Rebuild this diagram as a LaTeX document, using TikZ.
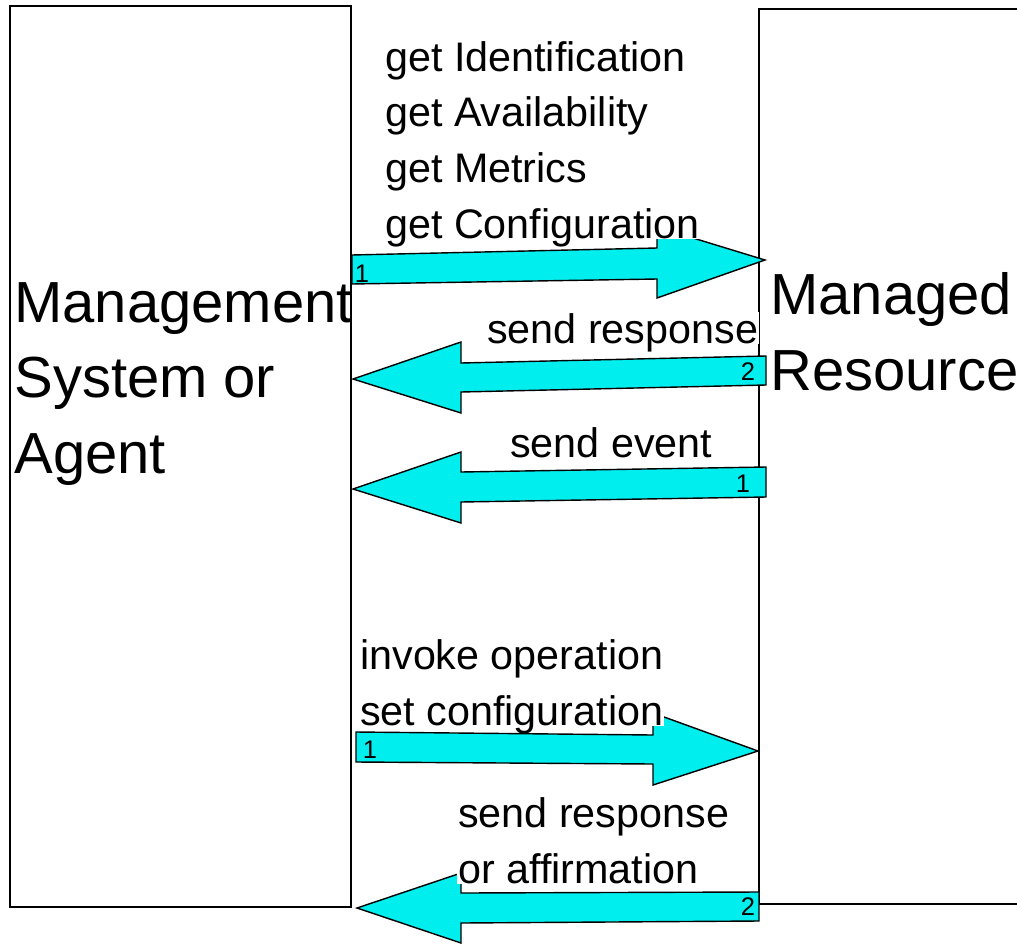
\documentclass[tikz,border=0pt]{standalone}
\usepackage{fontspec}
\setmainfont{Liberation Sans}
\definecolor{arrowcyan}{RGB}{0,238,238}
\tikzset{
  frame/.style={draw=black,line width=1.1pt},
  blockarrow/.style={draw=black,fill=arrowcyan,line width=0.8pt,line join=miter},
  msg/.style={anchor=base west,fill=white,inner sep=0.5pt,align=left,text depth=0pt,
    font=\fontsize{23.5}{31.6}\selectfont},
  seqno/.style={inner sep=0pt,font=\fontsize{14.5}{15}\selectfont},
  party/.style={anchor=base west,inner sep=0pt,align=left,
    font=\fontsize{33}{42.7}\selectfont}
}

\begin{document}
\begin{tikzpicture}[x=0.02cm,y=-0.02cm]
\clip (0,0) rectangle (1017,943);

% the two parties
\draw[frame] (10,6) rectangle (351,907);
\draw[frame] (759,9) rectangle (1040,904);

% messages
\draw[blockarrow] (352,255) -- (657,248) -- (657,227) -- (765,260) -- (657,298) -- (657,279) -- (352,284) -- cycle;
\draw[blockarrow] (766,356) -- (461,363) -- (461,342) -- (353,379) -- (461,413) -- (461,392) -- (766,385) -- cycle;
\draw[blockarrow] (766,467) -- (461,472) -- (461,452) -- (353,489) -- (461,523) -- (461,502) -- (766,497) -- cycle;
\draw[blockarrow] (356,732) -- (653,735) -- (653,713) -- (758,751) -- (653,785) -- (653,764) -- (356,762) -- cycle;
\draw[blockarrow] (759,892) -- (461,893) -- (461,873) -- (357,908) -- (461,943) -- (461,923) -- (759,921) -- cycle;

% labels (base anchor = last line)
\node[msg] (getlist) at (384,238) {get Identification\\get Availability\\get Metrics\\get Configuration};
\node[msg] (resp) at (486,343) {send response};
\node[msg] (event) at (509,457) {send event};
\node[msg] (invoke) at (359,725) {invoke operation\\set configuration};
\node[msg] (affirm) at (457,883) {send response\\or affirmation};

% sequence numbers
\node[seqno] (n1) at (362,274) {1};
\node[seqno] (n2) at (748,372) {2};
\node[seqno] (n3) at (743,484) {1};
\node[seqno] (n4) at (370,750) {1};
\node[seqno] (n5) at (748,907) {2};

\node[party] (mgmt) at (14,473) {Management\\System or\\Agent};
\node[party] (res) at (770,390) {Managed\\Resource};
\end{tikzpicture}
\end{document}
